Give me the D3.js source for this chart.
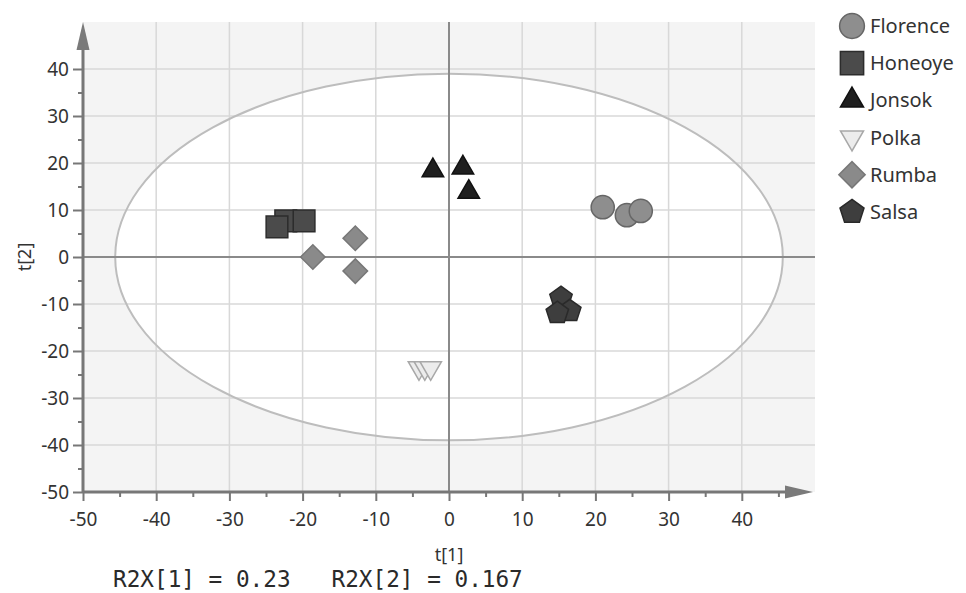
<!DOCTYPE html>
<html>
<head>
<meta charset="utf-8">
<script src="https://cdn.jsdelivr.net/npm/d3@7"></script>
<style>
  body { margin: 0; background: #fff; }
  text { font-family: "Noto Sans", "Open Sans", sans-serif; fill: #333; }
  .mono { font-family: "DejaVu Sans Mono", "Liberation Mono", monospace; }
</style>
</head>
<body>
<div id="chart"></div>
<script>
// ---- data ----
var seriesNames = ["Florence", "Honeoye", "Jonsok", "Polka", "Rumba", "Salsa"];
var florenceT1 = [21.0, 24.3, 26.2];
var florenceT2 = [10.6, 8.9, 9.8];
var honeoyeT1 = [-22.3, -23.5, -19.8];
var honeoyeT2 = [7.7, 6.4, 7.7];
var jonsokT1 = [-2.2, 1.9, 2.7];
var jonsokT2 = [18.4, 19.0, 13.8];
var polkaT1 = [-4.1, -3.3, -2.5];
var polkaT2 = [-23.6, -23.6, -23.6];
var rumbaT1 = [-18.6, -12.8, -12.8];
var rumbaT2 = [0.0, 4.0, -3.0];
var salsaT1 = [15.3, 16.5, 14.8];
var salsaT2 = [-8.7, -11.5, -11.9];
var tickValues = [-50, -40, -30, -20, -10, 0, 10, 20, 30, 40];
var ellipseT1 = 45.6, ellipseT2 = 39.0;   // Hotelling T2 ellipse half axes
var r2xLabel = "R2X[1] = 0.23   R2X[2] = 0.167";

var t1s = [florenceT1, honeoyeT1, jonsokT1, polkaT1, rumbaT1, salsaT1];
var t2s = [florenceT2, honeoyeT2, jonsokT2, polkaT2, rumbaT2, salsaT2];

// styles per series
var pentagon = {
  draw: function(ctx, size) {
    var r = Math.sqrt(size / 2.378);
    for (var i = 0; i < 5; i++) {
      var a = -Math.PI / 2 + i * 2 * Math.PI / 5;
      if (i === 0) ctx.moveTo(r * Math.cos(a), r * Math.sin(a));
      else ctx.lineTo(r * Math.cos(a), r * Math.sin(a));
    }
    ctx.closePath();
  }
};
var styles = {
  Florence: {type: d3.symbolCircle, size: 420, rot: 0, fill: "#8e8e8e", stroke: "#666"},
  Honeoye: {type: d3.symbolSquare, size: 470, rot: 0, fill: "#4b4b4b", stroke: "#2c2c2c"},
  Jonsok: {type: d3.symbolTriangle, size: 200, rot: 0, fill: "#1f1f1f", stroke: "#111"},
  Polka: {type: d3.symbolTriangle, size: 200, rot: 180, fill: "#ececec", stroke: "#a8a8a8"},
  Rumba: {type: d3.symbolSquare, size: 300, rot: 45, fill: "#8a8a8a", stroke: "#777"},
  Salsa: {type: pentagon, size: 330, rot: 0, fill: "#3e3e3e", stroke: "#2a2a2a"}
};

var width = 966, height = 593;
var margin = {top: 22, right: 151, bottom: 101, left: 83};

var x = d3.scaleLinear().domain([-50, 50]).range([margin.left, width - margin.right]);
var y = d3.scaleLinear().domain([-50, 50]).range([height - margin.bottom, margin.top]);
var fmt = function(d) { return String(d); };   // plain hyphen minus, as in the original

var svg = d3.select("#chart").append("svg")
  .attr("width", width).attr("height", height);

// plot background
svg.append("rect")
  .attr("x", x(-50)).attr("y", y(50))
  .attr("width", x(50) - x(-50)).attr("height", y(-50) - y(50))
  .attr("fill", "#f4f4f4");

svg.append("ellipse")
  .attr("cx", x(0)).attr("cy", y(0))
  .attr("rx", x(ellipseT1) - x(0)).attr("ry", y(0) - y(ellipseT2))
  .attr("fill", "#fff");

// grid
var grid = svg.append("g").attr("class", "grid");
var gridVals = tickValues.filter(function(d) { return d > -50 && d !== 0; });
grid.selectAll(".gx").data(gridVals)
  .enter().append("line")
  .attr("x1", function(d) { return x(d); }).attr("x2", function(d) { return x(d); })
  .attr("y1", y(50)).attr("y2", y(-50))
  .attr("stroke", "#d8d8d8").attr("stroke-width", 1.5);
grid.selectAll(".gy").data(gridVals)
  .enter().append("line")
  .attr("y1", function(d) { return y(d); }).attr("y2", function(d) { return y(d); })
  .attr("x1", x(-50)).attr("x2", x(50))
  .attr("stroke", "#d8d8d8").attr("stroke-width", 1.5);

svg.append("ellipse")
  .attr("cx", x(0)).attr("cy", y(0))
  .attr("rx", x(ellipseT1) - x(0)).attr("ry", y(0) - y(ellipseT2))
  .attr("fill", "none").attr("stroke", "#bdbdbd").attr("stroke-width", 2);

// zero lines
svg.append("line")
  .attr("x1", x(0)).attr("x2", x(0)).attr("y1", y(50)).attr("y2", y(-50))
  .attr("stroke", "#8a8a8a").attr("stroke-width", 2);
svg.append("line")
  .attr("x1", x(-50)).attr("x2", x(50)).attr("y1", y(0)).attr("y2", y(0))
  .attr("stroke", "#8a8a8a").attr("stroke-width", 2);

// axes
var minorTicks = d3.range(-45, 50, 10);
function styleAxis(g) {
  g.select(".domain").remove();
  g.selectAll(".tick line").attr("stroke", "#777").attr("stroke-width", 2);
  g.selectAll(".tick text").attr("fill", "#333").style("font-size", "19px");
}
svg.append("g").attr("transform", "translate(0," + y(-50) + ")")
  .call(d3.axisBottom(x).tickValues(tickValues).tickFormat(fmt).tickSize(9).tickPadding(12))
  .call(styleAxis);
svg.append("g").attr("transform", "translate(0," + y(-50) + ")")
  .call(d3.axisBottom(x).tickValues(minorTicks).tickSize(5).tickFormat(""))
  .call(styleAxis);
svg.append("g").attr("transform", "translate(" + x(-50) + ",0)")
  .call(d3.axisLeft(y).tickValues(tickValues).tickFormat(fmt).tickSize(10).tickPadding(4))
  .call(styleAxis);
svg.append("g").attr("transform", "translate(" + x(-50) + ",0)")
  .call(d3.axisLeft(y).tickValues(minorTicks).tickSize(5).tickFormat(""))
  .call(styleAxis);

// axis lines with arrows
svg.append("line")
  .attr("x1", x(-50)).attr("x2", x(50) - 20).attr("y1", y(-50)).attr("y2", y(-50))
  .attr("stroke", "#777").attr("stroke-width", 3);
svg.append("line")
  .attr("x1", x(-50)).attr("x2", x(-50)).attr("y1", y(-50)).attr("y2", y(50) + 20)
  .attr("stroke", "#777").attr("stroke-width", 3);
svg.append("path")
  .attr("d", "M" + (x(50) - 2) + "," + y(-50) + "l-28,-6.5v13z")
  .attr("fill", "#7a7a7a");
svg.append("path")
  .attr("d", "M" + x(-50) + "," + y(50) + "l-6.5,28h13z")
  .attr("fill", "#7a7a7a");

// axis titles
svg.append("text")
  .attr("transform", "translate(31," + y(0) + ") rotate(-90)")
  .attr("text-anchor", "middle")
  .style("font-size", "18px")
  .text("t[2]");
svg.append("text")
  .attr("x", x(0)).attr("y", 561)
  .attr("text-anchor", "middle")
  .style("font-size", "18px")
  .text("t[1]");
svg.append("text")
  .attr("class", "mono")
  .attr("x", 113).attr("y", 587)
  .attr("xml:space", "preserve")
  .style("white-space", "pre")
  .style("font-size", "22.7px")
  .style("fill", "#2a2a2a")
  .text(r2xLabel);

// points
var symbol = d3.symbol();
seriesNames.forEach(function(name, i) {
  var s = styles[name];
  var pts = t1s[i].map(function(v, j) { return {t1: v, t2: t2s[i][j]}; });
  svg.append("g").attr("class", "series")
    .selectAll("path").data(pts).enter().append("path")
    .attr("d", symbol.type(s.type).size(s.size)())
    .attr("transform", function(d) {
      return "translate(" + x(d.t1) + "," + y(d.t2) + ") rotate(" + s.rot + ")";
    })
    .attr("fill", s.fill).attr("stroke", s.stroke).attr("stroke-width", 1.5);
});

// legend
var legend = svg.append("g").attr("transform", "translate(852,26)");
var item = legend.selectAll("g").data(seriesNames).enter().append("g")
  .attr("transform", function(d, i) { return "translate(0," + i * 37.2 + ")"; });
item.append("path")
  .attr("d", function(d) { return symbol.type(styles[d].type).size(styles[d].size * 1.15)(); })
  .attr("transform", function(d) { return "rotate(" + styles[d].rot + ")"; })
  .attr("fill", function(d) { return styles[d].fill; })
  .attr("stroke", function(d) { return styles[d].stroke; })
  .attr("stroke-width", 1.5);
item.append("text")
  .attr("x", 18).attr("dy", "0.35em")
  .style("font-size", "20px")
  .text(function(d) { return d; });
</script>
</body>
</html>
